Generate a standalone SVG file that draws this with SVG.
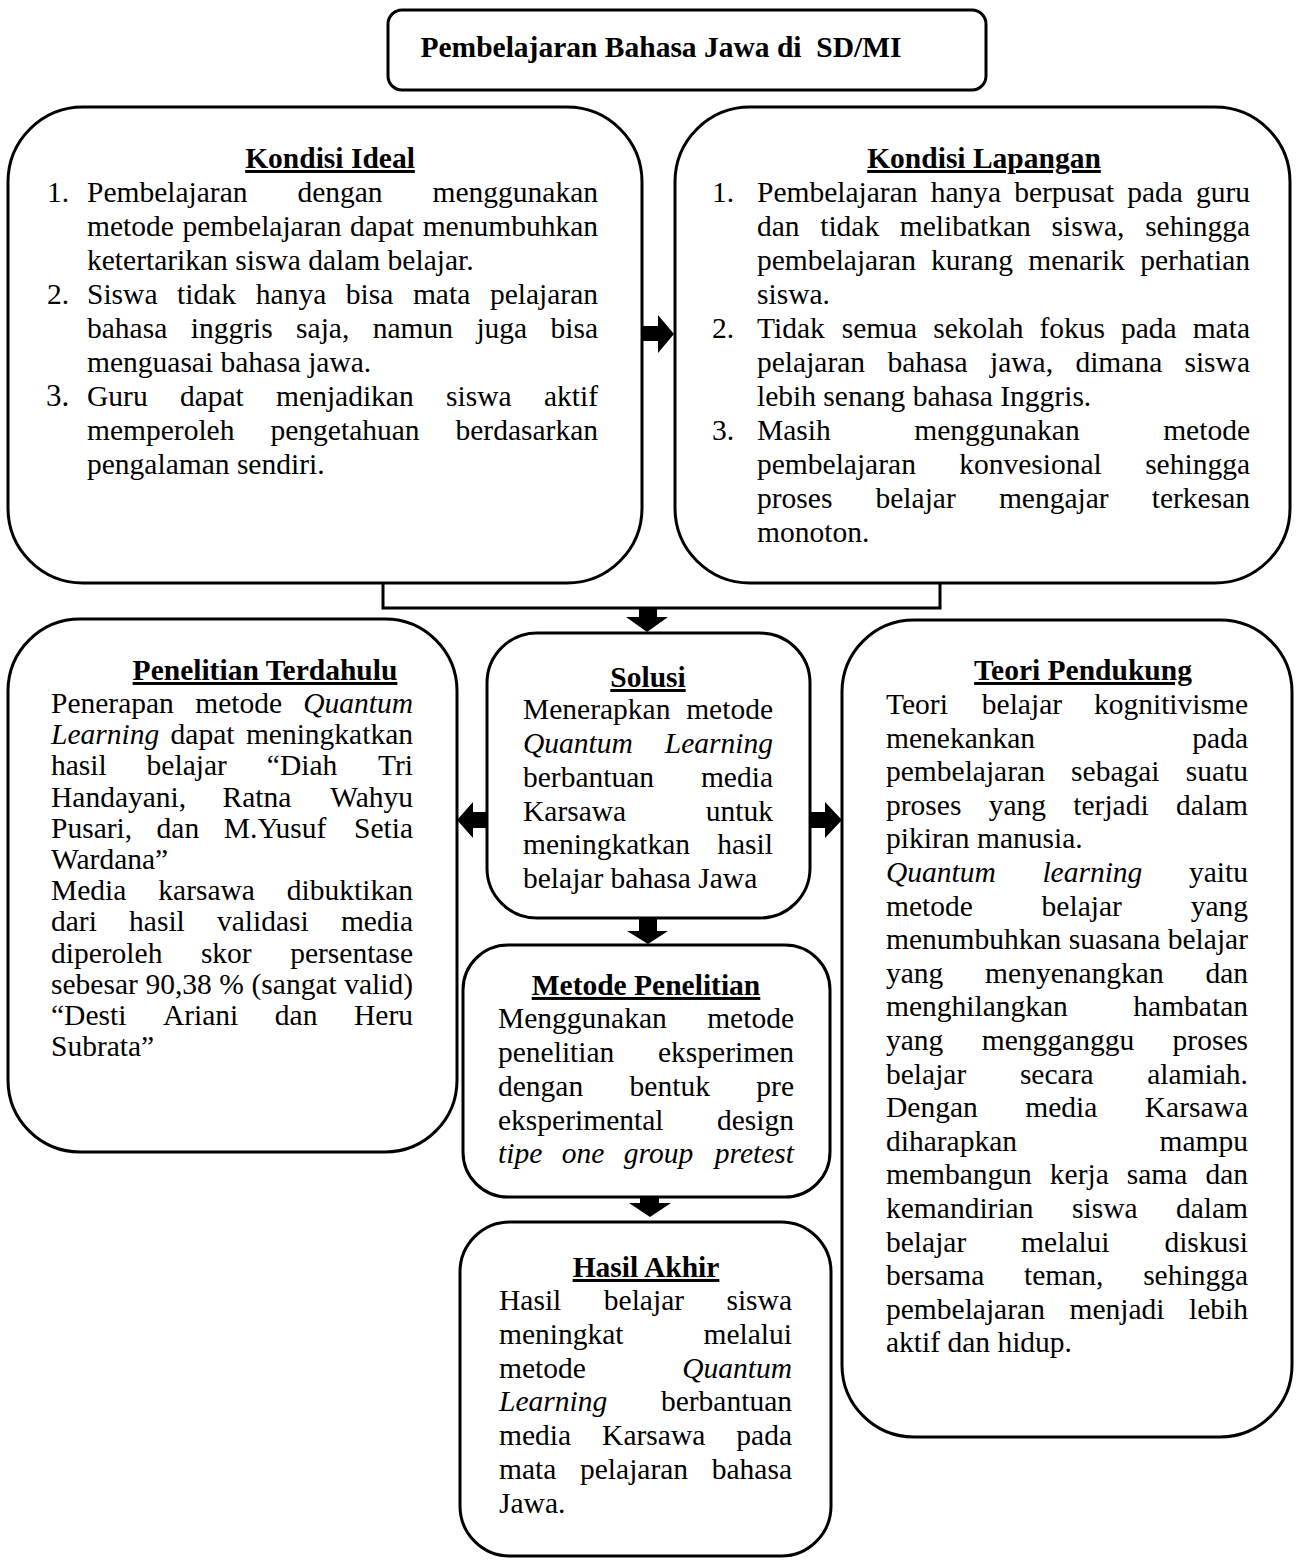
<svg xmlns="http://www.w3.org/2000/svg" width="1297" height="1561" viewBox="0 0 1297 1561">
<style>
.bx{fill:#fff;stroke:#000;stroke-width:3}
.t{font-family:'Liberation Serif','Times New Roman',serif;font-size:29.5px;fill:#000}
.hd{font-weight:bold;text-decoration:underline;text-anchor:middle}
.ti{font-weight:bold;text-anchor:middle}
.it{font-style:italic}
.e{text-anchor:end}
.cn{fill:none;stroke:#000;stroke-width:3}
.ar{fill:#000;stroke:none}
</style>
<rect width="1297" height="1561" fill="#fff"/>

<g id="connectors">
<path class="cn" d="M383,583 V608 H940 V583"/>
<polygon class="ar" points="642,326 658,326 658,315 674,334 658,353 658,341 642,341"/>
<polygon class="ar" points="639,608 657,608 657,617 668,617 647,632 626,617 639,617"/>
<polygon class="ar" points="487,812 473,812 473,802 457,820 473,838 473,828 487,828"/>
<polygon class="ar" points="810,812 825,812 825,802 842,820 825,838 825,828 810,828"/>
<polygon class="ar" points="639,918 657,918 657,931 668,931 648,944 627,931 639,931"/>
<polygon class="ar" points="640,1196 659,1196 659,1203 671,1203 650,1217 629,1203 640,1203"/>
</g>

<g id="title">
<rect class="bx" x="388" y="10" width="598" height="80" rx="14"/>
<text class="t ti" x="661" y="57">Pembelajaran Bahasa Jawa di&#160; SD/MI</text>
</g>

<g id="kondisi-ideal">
<rect class="bx" x="8" y="107" width="634" height="476" rx="75"/>
<text class="t hd" x="330" y="168">Kondisi Ideal</text>
<text class="t" y="202"><tspan x="47">1.</tspan><tspan x="87">Pembelajaran</tspan><tspan x="297.4">dengan</tspan><tspan x="598" class="e">menggunakan</tspan></text>
<text class="t" y="236"><tspan x="87">metode</tspan><tspan x="182.5">pembelajaran</tspan><tspan x="350.1">dapat</tspan><tspan x="598" class="e">menumbuhkan</tspan></text>
<text class="t" x="87" y="270">ketertarikan siswa dalam belajar.</text>
<text class="t" y="304"><tspan x="47">2.</tspan><tspan x="87">Siswa</tspan><tspan x="177.1">tidak</tspan><tspan x="255.8">hanya</tspan><tspan x="345.8">bisa</tspan><tspan x="412.9">mata</tspan><tspan x="598" class="e">pelajaran</tspan></text>
<text class="t" y="338"><tspan x="87">bahasa</tspan><tspan x="190.7">inggris</tspan><tspan x="296.1">saja,</tspan><tspan x="372.7">namun</tspan><tspan x="476.4">juga</tspan><tspan x="598" class="e">bisa</tspan></text>
<text class="t" x="87" y="372">menguasai bahasa jawa.</text>
<text class="t" y="406"><tspan x="46" style="font-size:31px">3.</tspan><tspan x="87">Guru</tspan><tspan x="179.9">dapat</tspan><tspan x="276.1">menjadikan</tspan><tspan x="446">siswa</tspan><tspan x="598" class="e">aktif</tspan></text>
<text class="t" y="440"><tspan x="87">memperoleh</tspan><tspan x="270.5">pengetahuan</tspan><tspan x="598" class="e">berdasarkan</tspan></text>
<text class="t" x="87" y="474">pengalaman sendiri.</text>
</g>

<g id="kondisi-lapangan">
<rect class="bx" x="675" y="107" width="615" height="476" rx="75"/>
<text class="t hd" x="984" y="168">Kondisi Lapangan</text>
<text class="t" y="202"><tspan x="712">1.</tspan><tspan x="757">Pembelajaran</tspan><tspan x="930.7">hanya</tspan><tspan x="1014.2">berpusat</tspan><tspan x="1127.2">pada</tspan><tspan x="1250" class="e">guru</tspan></text>
<text class="t" y="236"><tspan x="757">dan</tspan><tspan x="820.2">tidak</tspan><tspan x="899.8">melibatkan</tspan><tspan x="1051.5">siswa,</tspan><tspan x="1250" class="e">sehingga</tspan></text>
<text class="t" y="270"><tspan x="757">pembelajaran</tspan><tspan x="931.1">kurang</tspan><tspan x="1028.2">menarik</tspan><tspan x="1250" class="e">perhatian</tspan></text>
<text class="t" x="757" y="304">siswa.</text>
<text class="t" y="338"><tspan x="712">2.</tspan><tspan x="757">Tidak</tspan><tspan x="841.8">semua</tspan><tspan x="933.3">sekolah</tspan><tspan x="1039.4">fokus</tspan><tspan x="1120.9">pada</tspan><tspan x="1250" class="e">mata</tspan></text>
<text class="t" y="372"><tspan x="757">pelajaran</tspan><tspan x="887.4">bahasa</tspan><tspan x="990">jawa,</tspan><tspan x="1075.4">dimana</tspan><tspan x="1250" class="e">siswa</tspan></text>
<text class="t" x="757" y="406">lebih senang bahasa Inggris.</text>
<text class="t" y="440"><tspan x="712">3.</tspan><tspan x="757">Masih</tspan><tspan x="914.2">menggunakan</tspan><tspan x="1250" class="e">metode</tspan></text>
<text class="t" y="474"><tspan x="757">pembelajaran</tspan><tspan x="959.2">konvesional</tspan><tspan x="1250" class="e">sehingga</tspan></text>
<text class="t" y="508"><tspan x="757">proses</tspan><tspan x="875.5">belajar</tspan><tspan x="998.9">mengajar</tspan><tspan x="1250" class="e">terkesan</tspan></text>
<text class="t" x="757" y="542">monoton.</text>
</g>

<g id="penelitian-terdahulu">
<rect class="bx" x="8" y="619" width="449" height="533" rx="72"/>
<text class="t hd" x="265" y="680">Penelitian Terdahulu</text>
<text class="t" y="713"><tspan x="51">Penerapan</tspan><tspan x="195.2">metode</tspan><tspan x="413" class="e it">Quantum</tspan></text>
<text class="t" y="744.2"><tspan x="51" class="it">Learning</tspan><tspan x="170.6">dapat</tspan><tspan x="413" class="e">meningkatkan</tspan></text>
<text class="t" y="775.4"><tspan x="51">hasil</tspan><tspan x="146.6">belajar</tspan><tspan x="266.8">“Diah</tspan><tspan x="413" class="e">Tri</tspan></text>
<text class="t" y="806.6"><tspan x="51">Handayani,</tspan><tspan x="222.6">Ratna</tspan><tspan x="413" class="e">Wahyu</tspan></text>
<text class="t" y="837.8"><tspan x="51">Pusari,</tspan><tspan x="156.6">dan</tspan><tspan x="223.8">M.Yusuf</tspan><tspan x="413" class="e">Setia</tspan></text>
<text class="t" x="51" y="869">Wardana”</text>
<text class="t" y="900.2"><tspan x="51">Media</tspan><tspan x="158.3">karsawa</tspan><tspan x="413" class="e">dibuktikan</tspan></text>
<text class="t" y="931.4"><tspan x="51">dari</tspan><tspan x="129.1">hasil</tspan><tspan x="217">validasi</tspan><tspan x="413" class="e">media</tspan></text>
<text class="t" y="962.6"><tspan x="51">diperoleh</tspan><tspan x="200.9">skor</tspan><tspan x="413" class="e">persentase</tspan></text>
<text class="t" y="993.8"><tspan x="51">sebesar</tspan><tspan x="145.4">90,38</tspan><tspan x="219.3">%</tspan><tspan x="251.5">(sangat</tspan><tspan x="413" class="e">valid)</tspan></text>
<text class="t" y="1025"><tspan x="51">“Desti</tspan><tspan x="162.9">Ariani</tspan><tspan x="274.8">dan</tspan><tspan x="413" class="e">Heru</tspan></text>
<text class="t" x="51" y="1056.2">Subrata”</text>
</g>

<g id="solusi">
<rect class="bx" x="487" y="633" width="323" height="285" rx="50"/>
<text class="t hd" x="648" y="687">Solusi</text>
<text class="t" y="719"><tspan x="523">Menerapkan</tspan><tspan x="773" class="e">metode</tspan></text>
<text class="t it" y="753"><tspan x="523">Quantum</tspan><tspan x="773" class="e">Learning</tspan></text>
<text class="t" y="787"><tspan x="523">berbantuan</tspan><tspan x="773" class="e">media</tspan></text>
<text class="t" y="821"><tspan x="523">Karsawa</tspan><tspan x="773" class="e">untuk</tspan></text>
<text class="t" y="854"><tspan x="523">meningkatkan</tspan><tspan x="773" class="e">hasil</tspan></text>
<text class="t" x="523" y="888">belajar bahasa Jawa</text>
</g>

<g id="teori-pendukung">
<rect class="bx" x="842" y="620" width="450" height="817" rx="72"/>
<text class="t hd" x="1083" y="680">Teori Pendukung</text>
<text class="t" y="714"><tspan x="886">Teori</tspan><tspan x="981.8">belajar</tspan><tspan x="1248" class="e">kognitivisme</tspan></text>
<text class="t" y="747.6"><tspan x="886">menekankan</tspan><tspan x="1248" class="e">pada</tspan></text>
<text class="t" y="781.2"><tspan x="886">pembelajaran</tspan><tspan x="1071.1">sebagai</tspan><tspan x="1248" class="e">suatu</tspan></text>
<text class="t" y="814.8"><tspan x="886">proses</tspan><tspan x="988.7">yang</tspan><tspan x="1073.3">terjadi</tspan><tspan x="1248" class="e">dalam</tspan></text>
<text class="t" x="886" y="848.4">pikiran manusia.</text>
<text class="t" y="882"><tspan x="886" class="it">Quantum</tspan><tspan x="1042.4" class="it">learning</tspan><tspan x="1248" class="e">yaitu</tspan></text>
<text class="t" y="915.6"><tspan x="886">metode</tspan><tspan x="1041.6">belajar</tspan><tspan x="1248" class="e">yang</tspan></text>
<text class="t" y="949.2"><tspan x="886">menumbuhkan</tspan><tspan x="1068.7">suasana</tspan><tspan x="1248" class="e">belajar</tspan></text>
<text class="t" y="982.8"><tspan x="886">yang</tspan><tspan x="985.1">menyenangkan</tspan><tspan x="1248" class="e">dan</tspan></text>
<text class="t" y="1016.4"><tspan x="886">menghilangkan</tspan><tspan x="1248" class="e">hambatan</tspan></text>
<text class="t" y="1050"><tspan x="886">yang</tspan><tspan x="981.8">mengganggu</tspan><tspan x="1248" class="e">proses</tspan></text>
<text class="t" y="1083.6"><tspan x="886">belajar</tspan><tspan x="1019.9">secara</tspan><tspan x="1248" class="e">alamiah.</tspan></text>
<text class="t" y="1117.2"><tspan x="886">Dengan</tspan><tspan x="1025.2">media</tspan><tspan x="1248" class="e">Karsawa</tspan></text>
<text class="t" y="1150.8"><tspan x="886">diharapkan</tspan><tspan x="1248" class="e">mampu</tspan></text>
<text class="t" y="1184.4"><tspan x="886">membangun</tspan><tspan x="1049.8">kerja</tspan><tspan x="1126.8">sama</tspan><tspan x="1248" class="e">dan</tspan></text>
<text class="t" y="1218"><tspan x="886">kemandirian</tspan><tspan x="1072">siswa</tspan><tspan x="1248" class="e">dalam</tspan></text>
<text class="t" y="1251.6"><tspan x="886">belajar</tspan><tspan x="1021.1">melalui</tspan><tspan x="1248" class="e">diskusi</tspan></text>
<text class="t" y="1285.2"><tspan x="886">bersama</tspan><tspan x="1024">teman,</tspan><tspan x="1248" class="e">sehingga</tspan></text>
<text class="t" y="1318.8"><tspan x="886">pembelajaran</tspan><tspan x="1069.5">menjadi</tspan><tspan x="1248" class="e">lebih</tspan></text>
<text class="t" x="886" y="1352.4">aktif dan hidup.</text>
</g>

<g id="metode-penelitian">
<rect class="bx" x="463" y="945" width="367" height="252" rx="45"/>
<text class="t hd" x="646" y="995">Metode Penelitian</text>
<text class="t" y="1028"><tspan x="498">Menggunakan</tspan><tspan x="794" class="e">metode</tspan></text>
<text class="t" y="1062"><tspan x="498">penelitian</tspan><tspan x="794" class="e">eksperimen</tspan></text>
<text class="t" y="1096"><tspan x="498">dengan</tspan><tspan x="629.6">bentuk</tspan><tspan x="794" class="e">pre</tspan></text>
<text class="t" y="1130"><tspan x="498">eksperimental</tspan><tspan x="794" class="e">design</tspan></text>
<text class="t it" y="1163"><tspan x="498">tipe</tspan><tspan x="561.7">one</tspan><tspan x="623.8">group</tspan><tspan x="794" class="e">pretest</tspan></text>
</g>

<g id="hasil-akhir">
<rect class="bx" x="460" y="1222" width="371" height="334" rx="50"/>
<text class="t hd" x="646" y="1277">Hasil Akhir</text>
<text class="t" y="1310"><tspan x="499">Hasil</tspan><tspan x="603.8">belajar</tspan><tspan x="792" class="e">siswa</tspan></text>
<text class="t" y="1344"><tspan x="499">meningkat</tspan><tspan x="792" class="e">melalui</tspan></text>
<text class="t" y="1378"><tspan x="499">metode</tspan><tspan x="792" class="e it">Quantum</tspan></text>
<text class="t" y="1411"><tspan x="499" class="it">Learning</tspan><tspan x="792" class="e">berbantuan</tspan></text>
<text class="t" y="1445"><tspan x="499">media</tspan><tspan x="602.1">Karsawa</tspan><tspan x="792" class="e">pada</tspan></text>
<text class="t" y="1479"><tspan x="499">mata</tspan><tspan x="580">pelajaran</tspan><tspan x="792" class="e">bahasa</tspan></text>
<text class="t" x="499" y="1513">Jawa.</text>
</g>
</svg>
